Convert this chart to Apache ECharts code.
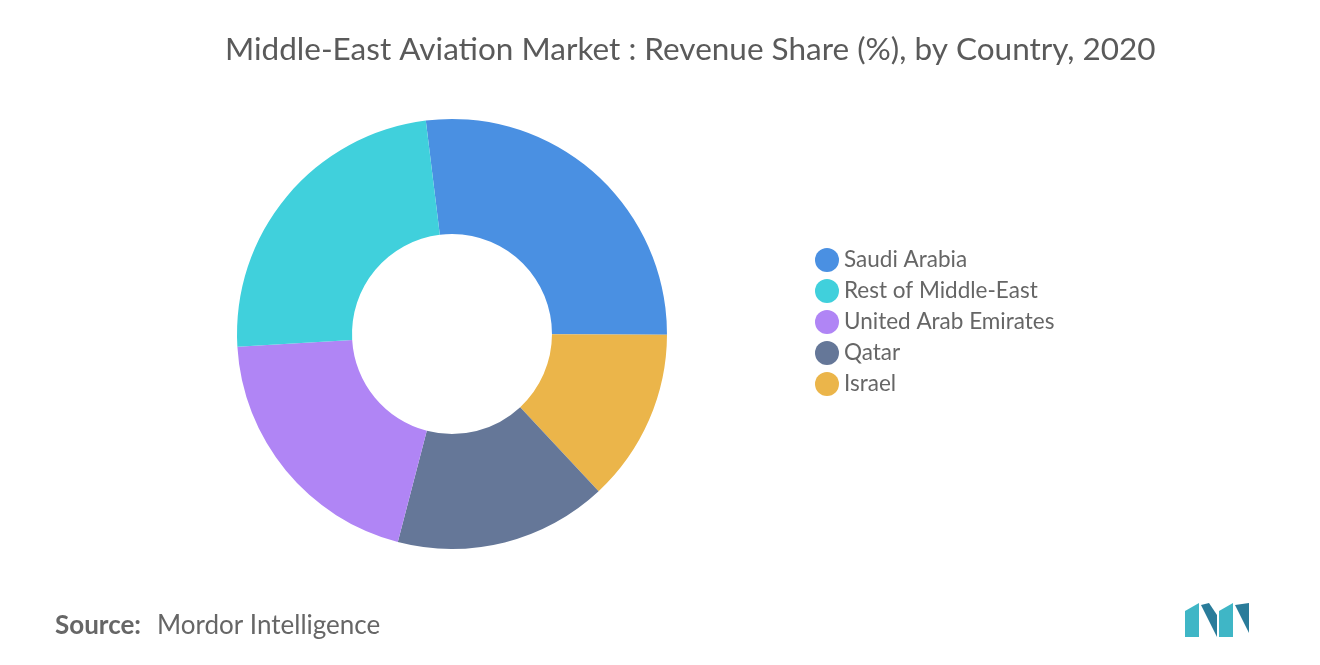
<!DOCTYPE html>
<html>
<head>
<meta charset="utf-8">
<script src="https://cdn.jsdelivr.net/npm/echarts@6/dist/echarts.min.js"></script>
<style>html,body{margin:0;padding:0;background:#fff}#main{width:1320px;height:665px}</style>
</head>
<body>
<div id="main"></div>
<script>
var myChart = echarts.init(document.getElementById('main'));
// slices in clockwise order from the top
var countries = ['Saudi Arabia', 'Israel', 'Qatar', 'United Arab Emirates', 'Rest of Middle-East'];
var shares = [27, 13, 16, 20, 24];
var colors = ['#4a90e2', '#ebb54a', '#657798', '#b085f5', '#40d0dc'];
var legendOrder = ['Saudi Arabia', 'Rest of Middle-East', 'United Arab Emirates', 'Qatar', 'Israel'];

var option = {
  title: {
    text: 'Middle-East Aviation Market : Revenue Share (%), by Country, 2020',
    left: 220,
    top: 29,
    textStyle: { fontFamily: 'Lato', fontWeight: 'normal', fontSize: 31.5, color: '#5a5a5a' }
  },
  legend: {
    orient: 'vertical',
    left: 810,
    top: 243,
    itemGap: 7,
    icon: 'circle',
    itemWidth: 24,
    itemHeight: 24,
    data: legendOrder,
    textStyle: { fontFamily: 'Lato', fontSize: 22.5, color: '#666' }
  },
  graphic: [
    {
      type: 'text', left: 55, top: 613,
      style: { text: 'Source:', font: 'bold 26px Lato', fill: '#666' }
    },
    {
      type: 'text', left: 157, top: 613,
      style: { text: 'Mordor Intelligence', font: '26px Lato', fill: '#666' }
    },
    {
      type: 'group', left: 1185, top: 603,
      children: [
        { type: 'polygon', shape: { points: [[0, 34], [0, 8], [14, 0], [14, 34]] }, style: { fill: '#3fb6c6' } },
        { type: 'polygon', shape: { points: [[16, 2], [32, 34], [32, 12], [24, 0]] }, style: { fill: '#2a7c9a' } },
        { type: 'polygon', shape: { points: [[34, 34], [34, 8], [48, 0], [48, 34]] }, style: { fill: '#3fb6c6' } },
        { type: 'polygon', shape: { points: [[50, 2], [64, 30], [64, 0]] }, style: { fill: '#2a7c9a' } }
      ]
    }
  ],
  series: [
    {
      type: 'pie',
      center: [452, 334],
      radius: [100, 215],
      startAngle: 97,
      label: { show: false },
      labelLine: { show: false },
      itemStyle: { borderWidth: 0 },
      data: countries.map(function (c, i) {
        return { name: c, value: shares[i], itemStyle: { color: colors[i] } };
      })
    }
  ]
};
myChart.setOption(option);
</script>
</body>
</html>
